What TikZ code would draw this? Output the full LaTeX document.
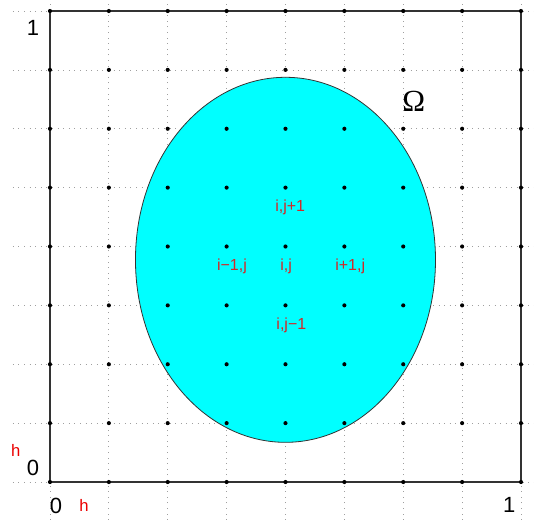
\documentclass[tikz,border=0pt]{standalone}
\usepackage{fontspec}
\setsansfont{Liberation Sans}
\newfontfamily\greekfont{Liberation Serif}
\usepackage{tikz}
\definecolor{domaincyan}{RGB}{0,255,255}
\definecolor{stencilred}{RGB}{210,40,40}
\definecolor{meshred}{RGB}{235,0,0}

\begin{document}
\begin{tikzpicture}[
    x=44.156pt, y=44.156pt,
    every node/.style={font=\sffamily},
    gridline/.style={gray!75, line width=0.55pt, dash pattern=on 0.6pt off 3.6pt},
    gridpoint/.style={circle, fill=black, inner sep=0pt, minimum size=3.1pt},
    axislabel/.style={font=\sffamily\fontsize{16.5}{18}\selectfont},
    steplabel/.style={text=meshred, font=\sffamily\fontsize{12.5}{14}\selectfont},
    stencillabel/.style={text=stencilred, font=\sffamily\fontsize{12}{14}\selectfont}
]
\useasboundingbox (-0.849,-0.645) rectangle (8.221,8.187);

% dotted mesh lines
\foreach \k in {0,...,8} {
    \draw[gridline] (-0.63,\k) -- (8.221,\k);
    \draw[gridline] (\k,-0.645) -- (\k,8.187);
}

% unit square
\draw[black!80, line width=0.8pt] (0,0) rectangle (8,8);

% domain
\filldraw[fill=domaincyan, draw=black!80, line width=0.6pt] (4,3.774) ellipse [x radius=2.548, y radius=3.1];

% mesh points
\foreach \i in {0,...,8} {
    \foreach \j in {0,...,8} {
        \node[gridpoint] (p-\i-\j) at (\i,\j) {};
    }
}

\node[font=\greekfont\fontsize{23}{26}\selectfont] (omega) at (6.18,6.47) {Ω};

\node[axislabel] (ytop) at (-0.29,7.71) {1};
\node[axislabel] (yzero) at (-0.29,0.24) {0};
\node[axislabel] (xzero) at (0.10,-0.41) {0};
\node[axislabel] (xone) at (7.80,-0.39) {1};
\node[steplabel] (ystep) at (-0.58,0.53) {h};
\node[steplabel] (xstep) at (0.58,-0.40) {h};

\node[stencillabel] (north) at (4.08,4.67) {i,j+1};
\node[stencillabel] (west) at (3.09,3.67) {i\textminus 1,j};
\node[stencillabel] (centre) at (4.01,3.67) {i,j};
\node[stencillabel] (east) at (5.10,3.67) {i+1,j};
\node[stencillabel] (south) at (4.10,2.66) {i,j\textminus 1};

\end{tikzpicture}
\end{document}
